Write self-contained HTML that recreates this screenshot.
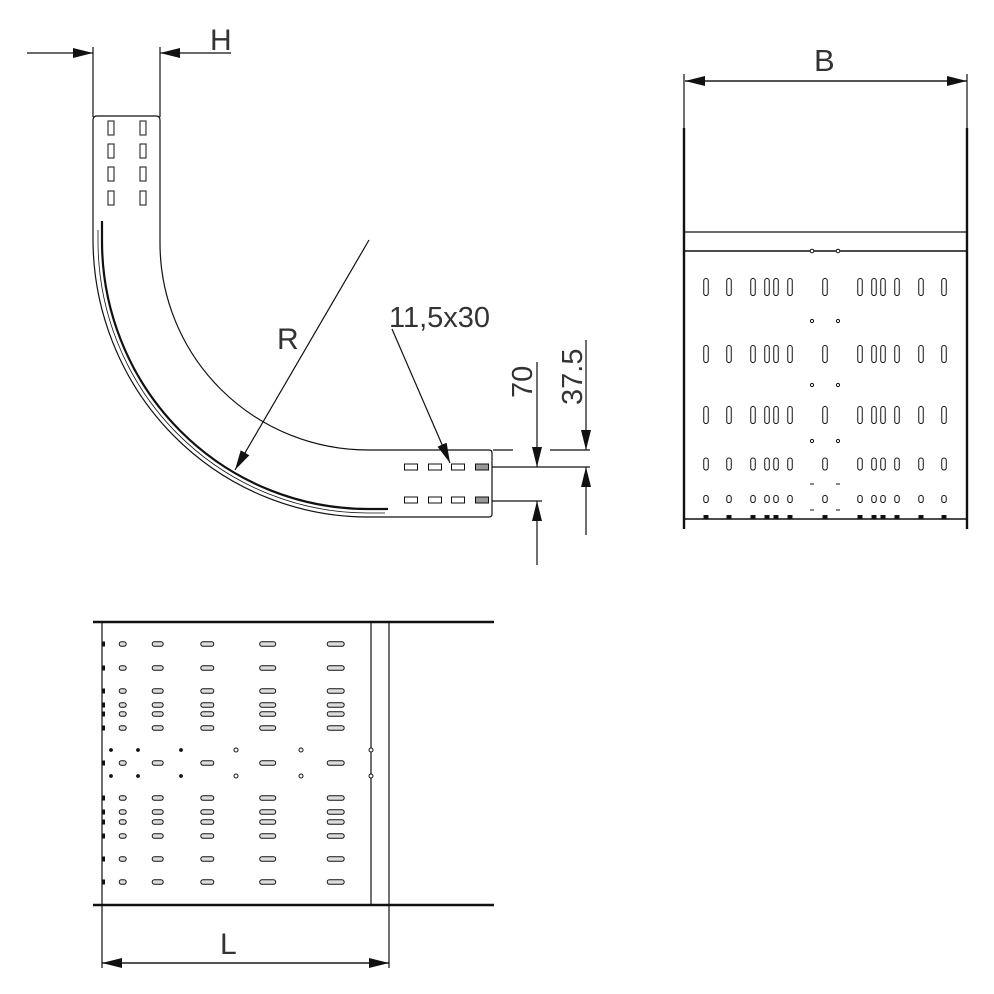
<!DOCTYPE html>
<html><head><meta charset="utf-8"><style>
html,body{margin:0;padding:0;background:#fff}
svg{display:block}
text{font-family:"Liberation Sans",sans-serif;fill:#333}
</style></head><body>
<svg id="s" width="994" height="994" viewBox="0 0 994 994" xmlns="http://www.w3.org/2000/svg">
<defs>
<marker id="a" viewBox="0 0 10 10" refX="10" refY="5" markerWidth="20" markerHeight="10" markerUnits="userSpaceOnUse" orient="auto" preserveAspectRatio="none"><path d="M0,0 L10,5 L0,10 z" fill="#111"/></marker>
</defs>
<g fill="none" stroke="#111" stroke-width="1.2">
<line x1="27" y1="53" x2="93" y2="53" marker-end="url(#a)"/>
<line x1="231" y1="53" x2="160" y2="53" marker-end="url(#a)"/>
<line x1="93" y1="47" x2="93" y2="117"/>
<line x1="160" y1="47" x2="160" y2="117"/>
<path d="M93,239 L93,120 Q93,116 97,116 L156,116 Q160,116 160,120 L160,243 A208,207 0 0 0 368,450 L489,450 Q492,450 492,453 L492,514 Q492,517 489,517 L368,517 A275,278 0 0 1 93,239"/>
<path d="M102,221 L102,241 A266,268 0 0 0 368,509 L388,509" stroke-width="2.2"/>
<path d="M98,230 L98,241 A270,272 0 0 0 368,513 L385,513" stroke-width="0.8"/>
<line x1="369" y1="240" x2="235" y2="470" marker-end="url(#a)"/>
<line x1="392" y1="329" x2="450" y2="463" marker-end="url(#a)"/>
<line x1="493" y1="450" x2="513" y2="450"/>
<line x1="550" y1="450" x2="590" y2="450"/>
<line x1="492" y1="467" x2="590" y2="467"/>
<line x1="492" y1="501" x2="542" y2="501"/>
<line x1="537" y1="362" x2="537" y2="467" marker-end="url(#a)"/>
<line x1="537" y1="565" x2="537" y2="501" marker-end="url(#a)"/>
<line x1="586" y1="340" x2="586" y2="450" marker-end="url(#a)"/>
<line x1="586" y1="535" x2="586" y2="467" marker-end="url(#a)"/>
<line x1="685" y1="81" x2="967" y2="81" marker-end="url(#a)"/>
<line x1="967" y1="81" x2="685" y2="81" marker-end="url(#a)"/>
<line x1="684" y1="74" x2="684" y2="128"/>
<line x1="967" y1="74" x2="967" y2="128"/>
<line x1="684" y1="128" x2="684" y2="529" stroke-width="2.4"/>
<line x1="967" y1="128" x2="967" y2="529" stroke-width="2.4"/>
<line x1="684" y1="232" x2="967" y2="232"/>
<line x1="684" y1="251" x2="967" y2="251" stroke-width="1.6"/>
<line x1="684" y1="519" x2="967" y2="519" stroke-width="1.6"/>
<line x1="93" y1="622" x2="494" y2="622" stroke-width="2.4"/>
<line x1="93" y1="905" x2="494" y2="905" stroke-width="2.4"/>
<line x1="102" y1="622" x2="102" y2="968"/>
<line x1="371" y1="622" x2="371" y2="905"/>
<line x1="389" y1="622" x2="389" y2="968"/>
<line x1="102" y1="963" x2="389" y2="963" marker-end="url(#a)"/>
<line x1="389" y1="963" x2="102" y2="963" marker-end="url(#a)"/>
</g>
<g id="g" fill="none" stroke="#111" stroke-width="1"></g>
<text x="210" y="50" font-size="30">H</text>
<text x="277" y="349" font-size="30">R</text>
<text x="389" y="327" font-size="29">11,5x30</text>
<text transform="translate(532,398) rotate(-90)" font-size="29">70</text>
<text transform="translate(582,405) rotate(-90)" font-size="29">37.5</text>
<text x="814" y="71" font-size="31">B</text>
<text x="220" y="954" font-size="30">L</text>
</svg>
<script>
var g=document.getElementById('g'),h='';
function r(x,y,w,hh,rx,f){h+='<rect x="'+(x-w/2)+'" y="'+(y-hh/2)+'" width="'+w+'" height="'+hh+'" rx="'+(rx||0)+'"'+(f?' fill="'+f+'"':'')+'/>';}
function c(x,y,rr,f){h+='<circle cx="'+x+'" cy="'+y+'" r="'+rr+'"'+(f?' fill="'+f+'"':'')+'/>';}
[128,151,174,198].forEach(function(y){r(111,y,6,14);r(143,y,6,14);});
[467,500].forEach(function(y){[411,435,458].forEach(function(x){r(x,y,13,6);});r(482,y,13,6,0,'#999');});
var cols=[706,729,753,767,776,790,825,860,874,883,897,921,944];
[[287,17],[354,17],[415,17],[464,12],[499,7]].forEach(function(p){cols.forEach(function(x){r(x,p[0],4.5,p[1],2.2);});});
cols.forEach(function(x){h+='<rect x="'+(x-2.5)+'" y="515" width="5" height="4" fill="#111" stroke="none"/>';});
c(812,251,1.8,'#fff');c(838,251,1.8,'#fff');
[321,385,441].forEach(function(y){c(812,y,1.6);c(838,y,1.6);});
[484,510].forEach(function(y){h+='<line x1="810" y1="'+y+'" x2="814" y2="'+y+'"/><line x1="836" y1="'+y+'" x2="840" y2="'+y+'"/>';});
var bc=[[122.7,7],[157.7,11],[207.3,13],[267.7,16],[335.7,17]];
[644,668,691,705,714,728,763,798,812,822,836,859,882].forEach(function(y){bc.forEach(function(p){r(p[0],y,p[1],4.5,2.2,'#ddd');});h+='<rect x="102" y="'+(y-2.5)+'" width="3" height="5" fill="#111" stroke="none"/>';});
[750,776].forEach(function(y){[111,138,181].forEach(function(x){c(x,y,1.4,'#111');});[236,301,371].forEach(function(x){c(x,y,2,'#fff');});});
g.innerHTML=h;
</script>
</body></html>
